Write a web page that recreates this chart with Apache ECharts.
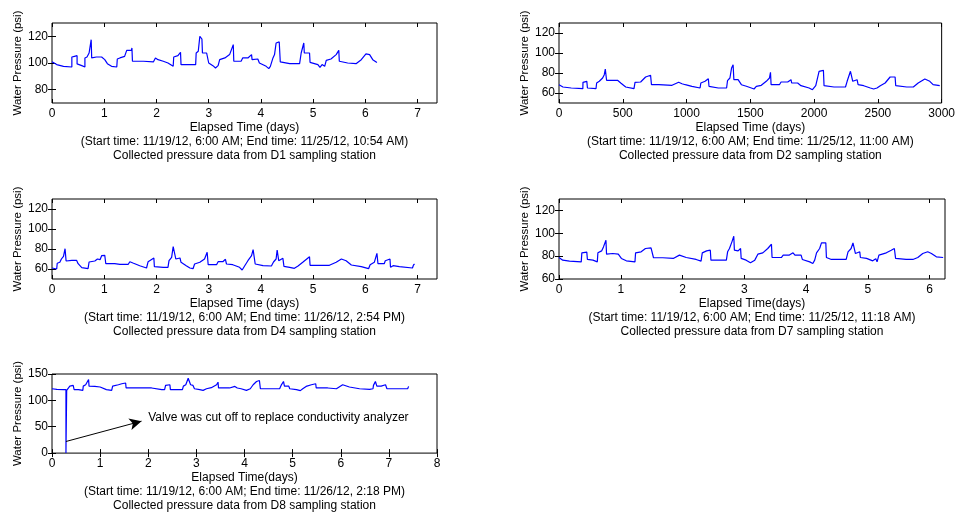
<!DOCTYPE html>
<html>
<head>
<meta charset="utf-8">
<script src="https://cdn.jsdelivr.net/npm/echarts@6/dist/echarts.min.js"></script>
<style>
  html, body { margin: 0; padding: 0; background: #fff; }
  #chart { width: 958px; height: 514px; }
</style>
</head>
<body>
<div id="chart"></div>
<script>
// ---- Station D1 (elapsed days, psi) ----
const d1Time = [0,0.09,0.22,0.38,0.38,0.43,0.48,0.48,0.57,0.63,0.63,0.67,0.71,0.73,0.75,0.76,0.85,0.95,1.01,1.06,1.14,1.24,1.25,1.3,1.39,1.43,1.52,1.53,1.54,1.68,1.71,1.75,1.94,1.98,2.03,2.13,2.22,2.32,2.33,2.41,2.46,2.47,2.75,2.76,2.8,2.83,2.86,2.87,2.88,2.96,3.0,3.08,3.13,3.18,3.21,3.31,3.4,3.47,3.48,3.62,3.65,3.75,3.82,3.83,3.94,3.97,4.1,4.15,4.18,4.23,4.26,4.29,4.35,4.37,4.55,4.74,4.77,4.82,4.83,4.93,4.94,5.09,5.13,5.17,5.22,5.25,5.34,5.44,5.49,5.5,5.66,5.82,5.92,6.01,6.08,6.14,6.22];
const d1Psi  = [101,98.8,97.5,97,104.5,105,105.5,99.3,98,97,103.8,104.5,107.5,108.8,117.5,103.8,104.5,104.5,102.5,99.5,97.5,97,103,103.8,105,109.5,109.5,111.3,101.3,101.3,102,101.3,100.8,103.8,102.5,101.3,100,97.5,104.5,105.5,108,98.8,98.8,107.5,108.8,120,121.3,118,107.5,107.5,100,98,96.3,98,102.5,103.8,106.3,113.8,101.3,101.3,103.8,103.8,106.3,102.5,103,100,97.5,95.8,97.5,103.8,106.3,115,115.8,100.8,99.5,99.5,107.5,115,107.5,107.5,100.5,98.8,96.8,98.8,97.5,102,103,106.3,109.5,101.3,100,99.5,102.5,106.8,106.3,102.5,100.3];

// ---- Station D2 (elapsed samples, psi) ----
const d2Time = [0,31,96,187,188,218,223,290,295,316,342,355,363,368,373,420,459,484,523,588,596,640,653,679,718,725,782,886,938,964,990,1042,1106,1112,1145,1171,1176,1249,1314,1321,1340,1353,1365,1371,1404,1417,1430,1469,1508,1529,1547,1586,1625,1650,1658,1663,1728,1741,1793,1819,1824,1871,1884,1897,1961,1987,2013,2039,2073,2078,2156,2246,2259,2285,2298,2303,2337,2345,2389,2441,2467,2493,2519,2557,2596,2635,2640,2726,2778,2816,2868,2907,2933,2985];
const d2Psi  = [68.3,66,65,64.3,70.7,71.7,65,64.3,70,71.7,75,78.3,84,85,72.7,72.7,72.7,70,66,64.3,70.7,71,72.3,76,77.7,68.3,68.3,67.7,70.7,69.3,68.3,66.7,65,70,71.7,74.3,66.7,65,65,72.3,75,85,88.3,73.3,73.3,75,68.3,66.7,65,64,66.7,67.7,71.7,75,80.7,68.3,68.3,71,71,73.3,70,70,71.7,67.3,65,63.3,67.3,81.7,82.7,67.3,66,66,71.7,81.7,81.7,71.7,73.3,68.3,67.3,65,64,65,67.3,70,76,76,67.3,66,66,70,74,71.7,68.3,67.3];

// ---- Station D4 (elapsed days, psi) ----
const d4Time = [0,0.09,0.1,0.15,0.18,0.22,0.25,0.26,0.27,0.38,0.47,0.5,0.57,0.69,0.71,0.82,0.87,0.92,0.95,1.01,1.03,1.2,1.3,1.46,1.49,1.55,1.68,1.81,1.84,1.95,1.96,2.13,2.22,2.24,2.29,2.32,2.35,2.37,2.45,2.47,2.57,2.64,2.7,2.73,2.83,2.92,2.97,2.99,3.15,3.18,3.27,3.32,3.34,3.46,3.59,3.64,3.69,3.75,3.82,3.85,3.88,3.89,4.04,4.2,4.24,4.29,4.31,4.34,4.42,4.44,4.55,4.64,4.71,4.8,4.93,4.94,5.15,5.31,5.44,5.54,5.63,5.73,5.92,6.06,6.09,6.17,6.22,6.24,6.36,6.38,6.47,6.48,6.5,6.53,6.65,6.9,6.92,6.94];
const d4Psi  = [61,60,65.7,66.7,70,72.7,80.3,80.3,68,68.7,68.7,65.3,61.3,60.3,67,68,70,69.3,73.3,73.7,65.3,65.3,64.7,64.7,67.3,66,63.3,61,67.3,71,62.3,61.7,61.7,68.3,71.7,82.3,84.3,70,71,66.7,63.3,61,60.3,65,66.7,70,76.7,64.3,64.3,67.3,67.3,69.7,65,64.3,61.7,59,63.3,68.3,73.3,79.3,79.3,65,63.3,63,67,70,79,68.3,70.7,62.7,61.7,60.7,63,66.7,72.3,63.7,63.7,63.7,66.7,70,68.3,64,62.3,60.3,64.3,66.7,75.7,65.3,65.3,68.3,70,61.7,60,63.3,62.3,61,64,65];

// ---- Station D7 (elapsed days, psi) ----
const d7Time = [0,0.06,0.17,0.36,0.37,0.45,0.46,0.55,0.62,0.63,0.69,0.72,0.76,0.77,0.87,0.96,1.01,1.09,1.23,1.24,1.33,1.4,1.49,1.52,1.53,1.68,1.85,1.95,2.06,2.22,2.3,2.32,2.39,2.45,2.46,2.71,2.73,2.76,2.8,2.83,2.84,2.9,2.94,2.95,3.03,3.1,3.17,3.18,3.22,3.3,3.38,3.44,3.45,3.6,3.63,3.73,3.79,3.82,3.92,3.94,4.06,4.11,4.14,4.17,4.22,4.25,4.32,4.33,4.41,4.65,4.68,4.73,4.76,4.79,4.8,4.87,4.88,4.98,5.08,5.11,5.13,5.15,5.18,5.3,5.38,5.43,5.45,5.62,5.73,5.81,5.89,5.97,6.03,6.11,6.22];
const d7Psi  = [78.8,76.5,75.7,75,82.9,83.5,77.1,76.5,75,82.9,84.6,88.1,93.9,81.7,82.3,81.7,78,75.9,75,82.9,83.8,86.7,87.2,88.1,78.6,78.6,78,80.9,78.8,77.1,75.7,82.9,84.6,85.2,76.5,76.5,83.8,86.7,92.5,97.4,85.2,84.6,86.7,78,76.5,74.2,76.5,75,81.7,82.9,86.7,90.4,78.8,78.8,80.9,80.9,82.9,80.9,80.9,77.1,75,73.6,76.5,82.9,86.7,91.6,91.6,78.8,77.1,77.1,83.8,86.7,91.6,91.6,82.3,83.8,78.8,78,75.9,75,77.7,75,80.9,82.9,85.2,86.7,78,77.1,77.1,78.8,82.3,83.8,82.3,79.4,78.8];

// ---- Station D8 (elapsed days, psi); valve shut-off near 0.3 days ----
const d8Time = [0,0.1,0.24,0.29,0.29,0.305,0.305,0.34,0.37,0.44,0.46,0.55,0.64,0.65,0.7,0.73,0.76,0.77,0.89,1.0,1.13,1.24,1.26,1.38,1.45,1.53,1.54,1.69,1.96,2.0,2.07,2.28,2.34,2.36,2.45,2.46,2.71,2.73,2.78,2.83,2.86,2.88,2.93,2.96,3.07,3.14,3.21,3.31,3.42,3.45,3.46,3.69,3.71,3.8,3.83,3.85,3.93,4.04,4.12,4.18,4.25,4.31,4.33,4.52,4.73,4.76,4.81,4.83,4.92,4.94,5.08,5.16,5.21,5.25,5.28,5.39,5.48,5.49,5.73,5.91,6.04,6.18,6.39,6.6,6.67,6.68,6.72,6.75,6.84,6.93,6.96,7.05,7.08,7.39,7.41];
const d8Psi  = [122,121,120.4,120.4,0,0,119,119,127,128.4,120.4,120.4,119,127,129.6,133,139.5,127,126.5,125.3,120.4,119,127,129.6,131.5,133,123.5,123.5,123.5,125.3,123.5,120.4,120.4,128.4,129.6,120.4,120.4,127,129.6,142,142,129.6,128.4,122,120.4,119,122,124,129.6,134.5,123.5,123.5,126.5,126.5,128.4,123.5,122,119,122,129.6,135.8,137.7,122,122,122,128.4,135.8,127,127,122,120.4,118.5,122,119,126.5,129.6,131.5,123.5,123.5,122,129.6,125.3,122,121,122,128.4,135.8,127,127,129.6,122,122,123.5,122,126.5];

// ---- Tick labels ----
const daysTicks7 = [0,1,2,3,4,5,6,7];
const daysTicks6 = [0,1,2,3,4,5,6];
const daysTicks8 = [0,1,2,3,4,5,6,7,8];
const sampleTicks = [0,500,1000,1500,2000,2500,3000];
const psiTicks80 = [80,100,120];
const psiTicks60 = [60,80,100,120];
const psiTicks0 = [0,50,100,150];

// ---- Annotation on the D8 record ----
const valveNote = 'Valve was cut off to replace conductivity analyzer';
const arrowFrom = [0.29, 22];
const arrowTo = [1.86, 60.6];
const notePos = [2.0, 67];

const zip = (xs, ys) => xs.map((x, i) => [x, ys[i]]);
const FONT = 'Liberation Sans, Arial, Helvetica, sans-serif';
const plain = v => String(v);

const panels = [
  { time: d1Time, psi: d1Psi, xMin: 0, xMax: 7.37, xTicks: daysTicks7, yMin: 70, yMax: 130, yTicks: psiTicks80,
    xName: 'Elapsed Time (days)', start: '(Start time: 11/19/12, 6:00 AM; End time: 11/25/12, 10:54 AM)',
    station: 'Collected pressure data from D1 sampling station', left: 52, top: 23, width: 385 },
  { time: d2Time, psi: d2Psi, xMin: 0, xMax: 3000, xTicks: sampleTicks, yMin: 50, yMax: 130, yTicks: psiTicks60,
    xName: 'Elapsed Time (days)', start: '(Start time: 11/19/12, 6:00 AM; End time: 11/25/12, 11:00 AM)',
    station: 'Collected pressure data from D2 sampling station', left: 559, top: 23, width: 386 },
  { time: d4Time, psi: d4Psi, xMin: 0, xMax: 7.37, xTicks: daysTicks7, yMin: 50, yMax: 130, yTicks: psiTicks60,
    xName: 'Elapsed Time (days)', start: '(Start time: 11/19/12, 6:00 AM; End time: 11/26/12, 2:54 PM)',
    station: 'Collected pressure data from D4 sampling station', left: 52, top: 199, width: 385 },
  { time: d7Time, psi: d7Psi, xMin: 0, xMax: 6.25, xTicks: daysTicks6, yMin: 60, yMax: 130, yTicks: psiTicks60,
    xName: 'Elapsed Time(days)', start: '(Start time: 11/19/12, 6:00 AM; End time: 11/25/12, 11:18 AM)',
    station: 'Collected pressure data from D7 sampling station', left: 559, top: 199, width: 386 },
  { time: d8Time, psi: d8Psi, xMin: 0, xMax: 8, xTicks: daysTicks8, yMin: 0, yMax: 150, yTicks: psiTicks0,
    xName: 'Elapsed Time(days)', start: '(Start time: 11/19/12, 6:00 AM; End time: 11/26/12, 2:18 PM)',
    station: 'Collected pressure data from D8 sampling station', left: 52, top: 374, width: 385 }
];

const grid = [], xAxis = [], yAxis = [], series = [];
const tickStyle = { inside: true, length: 4, lineStyle: { color: '#000', width: 1 } };

panels.forEach((p, i) => {
  grid.push({ left: p.left, top: p.top, width: p.width, height: 80, show: true,
              borderColor: '#000', borderWidth: 1, backgroundColor: '#fff' });
  // bottom axis with labels and the three-line caption
  xAxis.push({
    type: 'value', gridIndex: i, position: 'bottom', min: p.xMin, max: p.xMax,
    axisLine: { show: false }, splitLine: { show: false },
    axisTick: Object.assign({ customValues: p.xTicks }, tickStyle),
    axisLabel: { customValues: p.xTicks, formatter: plain, color: '#000', fontSize: 12, fontFamily: FONT, margin: 5 },
    name: p.xName + '\n' + p.start + '\n' + p.station,
    nameLocation: 'middle', nameGap: 17,
    nameTextStyle: { color: '#000', fontSize: 12, fontFamily: FONT, lineHeight: 14 }
  });
  // mirrored top ticks
  xAxis.push({
    type: 'value', gridIndex: i, position: 'top', min: p.xMin, max: p.xMax,
    axisLine: { show: false }, splitLine: { show: false },
    axisTick: Object.assign({ customValues: p.xTicks }, tickStyle),
    axisLabel: { show: false }
  });
  yAxis.push({
    type: 'value', gridIndex: i, position: 'left', min: p.yMin, max: p.yMax,
    axisLine: { show: false }, splitLine: { show: false },
    axisTick: Object.assign({ customValues: p.yTicks }, tickStyle),
    axisLabel: { customValues: p.yTicks, formatter: plain, color: '#000', fontSize: 12, fontFamily: FONT, margin: 4 },
    name: 'Water Pressure (psi)', nameLocation: 'middle', nameGap: 28,
    nameTextStyle: { color: '#000', fontSize: 11.5, fontFamily: FONT }
  });
  // mirrored right ticks
  yAxis.push({
    type: 'value', gridIndex: i, position: 'right', min: p.yMin, max: p.yMax,
    axisLine: { show: false }, splitLine: { show: false },
    axisTick: Object.assign({ customValues: p.yTicks }, tickStyle),
    axisLabel: { show: false }
  });
  const s = {
    type: 'line', xAxisIndex: 2 * i, yAxisIndex: 2 * i, data: zip(p.time, p.psi),
    showSymbol: false, symbol: 'none', lineStyle: { color: '#0000ff', width: 1.2 },
    silent: true, animation: false
  };
  if (i === 4) {
    s.markLine = {
      silent: true, animation: false, symbol: ['none', 'arrow'], symbolSize: [9, 12],
      lineStyle: { color: '#000', width: 1, type: 'solid' }, label: { show: false },
      data: [[{ coord: arrowFrom }, { coord: arrowTo }]]
    };
    s.markPoint = {
      silent: true, animation: false, symbol: 'circle', symbolSize: 0,
      data: [{ coord: notePos, label: { show: true, position: 'right', distance: 0,
        formatter: valveNote, color: '#000', fontSize: 12, fontFamily: FONT } }]
    };
  }
  series.push(s);
});

const chart = echarts.init(document.getElementById('chart'), null, { renderer: 'canvas' });
chart.setOption({ animation: false, backgroundColor: '#fff', grid, xAxis, yAxis, series });
</script>
</body>
</html>
